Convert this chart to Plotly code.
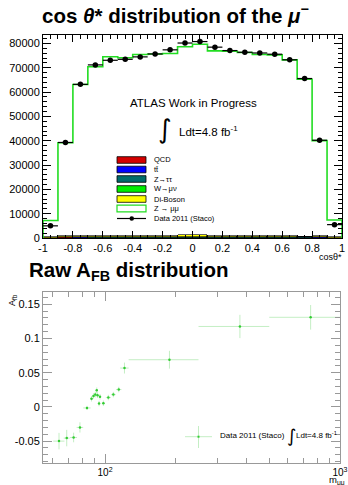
import numpy as np
import plotly.graph_objects as go

W, H = 348, 485

# ---------------- top panel data: cos theta* ----------------
cos_edges = [round(-1 + 0.1 * i, 2) for i in range(21)]
cos_centers = [round(-0.95 + 0.1 * i, 2) for i in range(20)]
data_counts = [5000, 39300, 63200, 71200, 73100, 73500, 74500, 75700, 77400, 80200,
               80800, 78500, 77100, 76400, 76100, 75600, 73300, 65600, 40200, 5500]
qcd = [60, 300, 120, 80, 60, 60, 60, 60, 60, 60, 60, 60, 60, 60, 60, 60, 80, 100, 150, 60]
ttbar = [40, 80, 90, 100, 100, 100, 100, 100, 100, 100, 100, 100, 100, 100, 100, 100, 100, 90, 80, 40]
ztautau = [50, 150, 150, 160, 160, 160, 160, 170, 170, 170, 170, 170, 170, 160, 160, 160, 160, 150, 150, 50]
wmunu = [30, 60, 60, 60, 60, 60, 60, 60, 60, 60, 60, 60, 60, 60, 60, 60, 60, 60, 60, 30]
diboson = [40, 200, 250, 260, 260, 280, 300, 500, 600, 700, 700, 600, 500, 300, 280, 260, 250, 200, 200, 40]
zmumu = [7000, 38400, 62500, 69800, 73900, 73500, 74800, 74800, 74900, 77600,
         78600, 76000, 75900, 75600, 74800, 74700, 72600, 64700, 39400, 7200]

bg_names = ["QCD", "tt\u0304", "Z\u2192\u03c4\u03c4", "W\u2192\u03bc\u03bd", "Di-Boson"]
bg_colors = ["#d40000", "#0000ff", "#006b6b", "#00ee00", "#ffff00"]

# ---------------- bottom panel data: raw A_FB ----------------
mass = [63.7, 68.7, 73.5, 78.2, 83.8, 87.6, 89.3, 90.9, 92.2, 92.9, 94.3, 95.2, 98.4,
        103.3, 108.5, 114.4, 121, 188, 375, 750]
mass_err = [3.5, 2, 2.5, 2.5, 3, 1.3, 0.8, 0.7, 0.6, 0.6, 0.7, 0.8, 1.5,
            2.5, 2.5, 3, 5, 62, 125, 250]
afb = [-0.050, -0.0456, -0.0447, -0.030, -0.0015, 0.012, 0.016, 0.018, 0.0244, 0.017,
       0.005, 0.0147, 0.0053, 0.0137, 0.018, 0.0254, 0.0568, 0.069, 0.1176, 0.131]
afb_err = [0.012, 0.012, 0.007, 0.0075, 0.003, 0.004, 0.004, 0.004, 0.004, 0.004,
           0.004, 0.004, 0.004, 0.004, 0.004, 0.004, 0.008, 0.013, 0.017, 0.018]

top_xticks = [-1, -0.8, -0.6, -0.4, -0.2, 0, 0.2, 0.4, 0.6, 0.8, 1]
top_xticktext = ["-1", "-0.8", "-0.6", "-0.4", "-0.2", "0", "0.2", "0.4", "0.6", "0.8", "1"]
top_yticks = [0, 10000, 20000, 30000, 40000, 50000, 60000, 70000, 80000]
bot_yticks = [-0.05, 0, 0.05, 0.1, 0.15]
bot_yticktext = ["-0.05", "0", "0.05", "0.1", "0.15"]
bot_minor_x = [60, 70, 80, 90, 200, 300, 400, 500, 600, 700, 800, 900]


def px(x):
    return x / W


def py(y):
    return 1 - y / H


fig = go.Figure()

# background stack bars
for name, vals, col in zip(bg_names, [qcd, ttbar, ztautau, wmunu, diboson], bg_colors):
    fig.add_trace(go.Bar(x=cos_centers, y=vals, width=0.1, marker=dict(color=col, line=dict(color="black", width=0.6)),
                         name=name, showlegend=False, xaxis="x", yaxis="y"))

total = np.array(zmumu) + np.array(qcd) + np.array(ttbar) + np.array(ztautau) + np.array(wmunu) + np.array(diboson)
step_x = [cos_edges[0]] + cos_edges[:-1] + [cos_edges[-1], cos_edges[-1]]
step_y = [0] + list(total) + [total[-1], 0]
fig.add_trace(go.Scatter(x=step_x, y=step_y, mode="lines", line=dict(color="#22dd22", width=1.6, shape="hv"),
                         showlegend=False, xaxis="x", yaxis="y"))

fig.add_trace(go.Scatter(x=cos_centers, y=data_counts, mode="markers",
                         marker=dict(color="black", size=5.5),
                         error_x=dict(type="constant", value=0.05, color="black", thickness=1.2, width=0),
                         error_y=dict(type="sqrt", color="black", thickness=1, width=0),
                         showlegend=False, xaxis="x", yaxis="y"))

# bottom A_FB
fig.add_trace(go.Scatter(x=mass, y=afb, mode="markers",
                         marker=dict(color="#33cc33", size=2.5),
                         error_x=dict(type="data", array=mass_err, color="rgba(60,200,60,0.3)", thickness=1, width=0),
                         error_y=dict(type="data", array=afb_err, color="rgba(60,200,60,0.3)", thickness=1, width=0),
                         showlegend=False, xaxis="x2", yaxis="y2"))

tickfont = dict(family="Liberation Sans, Arial, sans-serif", size=11, color="black")

fig.update_layout(
    width=W, height=H,
    margin=dict(l=0, r=0, t=0, b=0),
    paper_bgcolor="white", plot_bgcolor="white",
    barmode="stack", bargap=0,
    showlegend=False,
    font=dict(family="Liberation Sans, Arial, sans-serif", color="black"),
    xaxis=dict(domain=[px(43), px(342)], range=[-1, 1], anchor="y",
               tickvals=top_xticks, ticktext=top_xticktext, tickfont=tickfont,
               ticks="inside", ticklen=7, tickcolor="black", tickwidth=1,
               minor=dict(ticks="inside", dtick=0.05, tick0=-1, ticklen=3.5, tickcolor="black"),
               showline=True, linecolor="black", linewidth=1, mirror="allticks",
               showgrid=False, zeroline=False, automargin=False),
    yaxis=dict(domain=[py(238), py(35)], range=[0, 83500], anchor="x",
               tickvals=top_yticks, tickformat="d", tickfont=tickfont,
               ticks="inside", ticklen=8, tickcolor="black", tickwidth=1,
               minor=dict(ticks="inside", dtick=2000, tick0=0, ticklen=4, tickcolor="black"),
               showline=True, linecolor="black", linewidth=1, mirror="allticks",
               showgrid=False, zeroline=False, automargin=False),
    xaxis2=dict(domain=[px(43), px(340)], type="log", range=[1.736, 3.0], anchor="y2",
                tickvals=[100, 1000], ticktext=["10<sup>2</sup>", "10<sup>3</sup>"], tickfont=dict(tickfont, size=10),
                ticks="inside", ticklen=9, tickcolor="#999", tickwidth=1,
                minor=dict(ticks="inside", tickvals=bot_minor_x, ticklen=5, tickcolor="#999"),
                showline=True, linecolor="#999", linewidth=1, mirror="allticks",
                showgrid=False, zeroline=False, automargin=False),
    yaxis2=dict(domain=[py(463), py(292)], range=[-0.082, 0.168], anchor="x2",
                tickvals=bot_yticks, ticktext=bot_yticktext, tickfont=tickfont,
                ticks="inside", ticklen=9, tickcolor="#999", tickwidth=1,
                minor=dict(ticks="inside", dtick=0.01, tick0=0, ticklen=5, tickcolor="#999"),
                showline=True, linecolor="#999", linewidth=1, mirror="allticks",
                showgrid=False, zeroline=False, automargin=False),
)

ann = []
shapes = []
# titles
ann.append(dict(text="<b>cos <i>\u03b8</i>* distribution of the <i>\u03bc</i><sup>\u2212</sup></b>",
                x=px(175), y=py(14), xanchor="center", yanchor="middle",
                font=dict(size=20.5, family="Liberation Sans, Arial, sans-serif")))
ann.append(dict(text="<b>Raw A<sub>FB</sub> distribution</b>",
                x=px(27), y=py(271), xanchor="left", yanchor="middle",
                font=dict(size=20.5, family="Liberation Sans, Arial, sans-serif")))
# axis titles
ann.append(dict(text="cos\u03b8*", x=px(344), y=py(257), xanchor="right", yanchor="middle", font=dict(size=9)))
ann.append(dict(text="m<sub>\u03bc\u03bc</sub>", x=px(347), y=py(480), xanchor="right", yanchor="middle", font=dict(size=9.5)))
ann.append(dict(text="A<sub>fb</sub>", x=px(12), y=py(300), xanchor="center", yanchor="middle", textangle=-90, font=dict(size=9)))
# top text
ann.append(dict(text="ATLAS Work in Progress", x=px(193), y=py(103), xanchor="center", yanchor="middle", font=dict(size=11.5)))
ann.append(dict(text="\u222b", x=px(165), y=py(129), xanchor="center", yanchor="middle", font=dict(size=26, family="DejaVu Sans")))
ann.append(dict(text="Ldt=4.8 fb<sup>-1</sup>", x=px(177), y=py(131), xanchor="left", yanchor="middle", font=dict(size=11.5)))

# top legend
leg_rows = [160, 169.5, 179, 189, 199, 208.5]
leg_names = bg_names + ["Z \u2192 \u03bc\u03bc"]
leg_fill = bg_colors + ["white"]
leg_line = ["black"] * 5 + ["#22dd22"]
for yy, nm, fc, lc in zip(leg_rows, leg_names, leg_fill, leg_line):
    shapes.append(dict(type="rect", xref="paper", yref="paper", x0=px(117), x1=px(146), y0=py(yy + 3.3), y1=py(yy - 3.3),
                       fillcolor=fc, line=dict(color=lc, width=1.2 if lc != "black" else 0.8)))
    ann.append(dict(text=nm, x=px(152), y=py(yy), xanchor="left", yanchor="middle", font=dict(size=7.5)))
shapes.append(dict(type="line", xref="paper", yref="paper", x0=px(117), x1=px(146), y0=py(218.5), y1=py(218.5),
                   line=dict(color="black", width=1.2)))
shapes.append(dict(type="circle", xref="paper", yref="paper", x0=px(129.5), x1=px(134), y0=py(220.7), y1=py(216.3),
                   fillcolor="black", line=dict(color="black", width=0)))
ann.append(dict(text="Data 2011 (Staco)", x=px(152), y=py(218.5), xanchor="left", yanchor="middle", font=dict(size=7.5)))

# bottom legend
shapes.append(dict(type="line", xref="paper", yref="paper", x0=px(185), x1=px(212), y0=py(436.7), y1=py(436.7),
                   line=dict(color="rgba(60,200,60,0.3)", width=1)))
shapes.append(dict(type="line", xref="paper", yref="paper", x0=px(198.5), x1=px(198.5), y0=py(426), y1=py(448),
                   line=dict(color="rgba(60,200,60,0.3)", width=1)))
shapes.append(dict(type="rect", xref="paper", yref="paper", x0=px(197.5), x1=px(199.5), y0=py(437.7), y1=py(435.7),
                   fillcolor="#33cc33", line=dict(width=0)))
ann.append(dict(text="Data 2011 (Staco)", x=px(218), y=py(435), xanchor="left", yanchor="middle", font=dict(size=8)))
ann.append(dict(text="\u222b", x=px(291), y=py(435), xanchor="center", yanchor="middle", font=dict(size=18, family="DejaVu Sans")))
ann.append(dict(text="Ldt=4.8 fb<sup>-1</sup>", x=px(294), y=py(435), xanchor="left", yanchor="middle", font=dict(size=8)))

for a in ann:
    a.setdefault("xref", "paper")
    a.setdefault("yref", "paper")
    a.setdefault("showarrow", False)
fig.update_layout(annotations=ann, shapes=shapes)

fig.write_html("out.html", config={"displayModeBar": False},
               post_script="document.body.style.margin='0';document.body.style.overflow='hidden';")
